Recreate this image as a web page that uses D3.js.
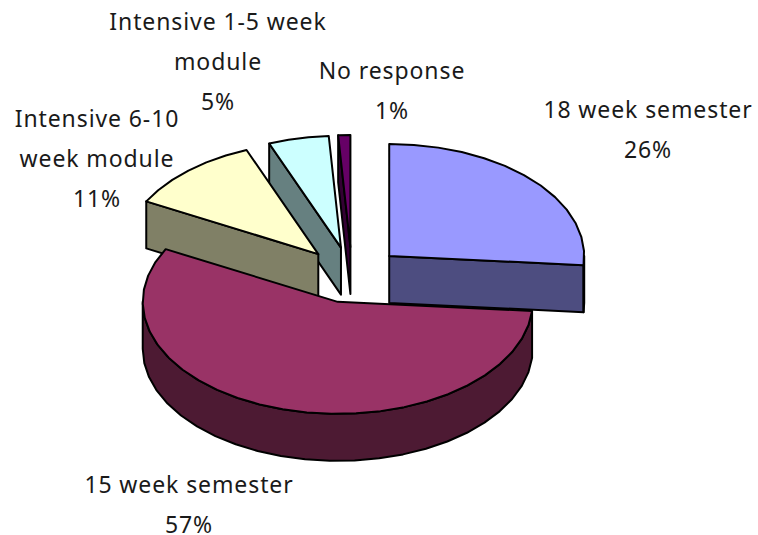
<!DOCTYPE html>
<html>
<head>
<meta charset="utf-8">
<style>
	html, body { margin: 0; padding: 0; background: #fff; }
	svg { display: block; }
	text { font-family: "Noto Sans", sans-serif; font-size: 23px; letter-spacing: 0.9px; fill: #1a1a1a; text-anchor: middle; }
</style>
<script src="https://cdn.jsdelivr.net/npm/d3@7"></script>
</head>
<body>
<svg id="chart" width="758" height="535"></svg>
<script>
	"use strict";

	var categories = ["18 week semester", "15 week semester", "Intensive 6-10 week module", "Intensive 1-5 week module", "No response"];
	// the printed labels are these rounded
	var percents = [26.3, 56.5, 11.2, 5, 1];

	// label lines, same order as categories, the percentage goes under them
	var labelLines = [
		["18 week semester"],
		["15 week semester"],
		["Intensive 6-10", "week module"],
		["Intensive 1-5 week", "module"],
		["No response"]
	];

	var topColors = ["#9999ff", "#993366", "#ffffcc", "#ccffff", "#660066"];
	var sideColors = ["#4d4d80", "#4d1a33", "#808066", "#668080", "#330033"];

	// back to front
	var drawOrder = [4, 3, 2, 1, 0];

	var center = { x: 352, y: 275 },
		radiusX = 195,
		radiusY = 112,
		depth = 47,
		explodeX = 50.6,
		explodeY = 28,
		rimStep = Math.PI / 24;

	// x of the first line's centre, baseline of the first line, for each label
	var labelAnchors = [[648, 118], [189, 493], [97, 127], [218, 30], [392, 79]];
	var labelPitch = 40;

	var svg = d3.select("#chart");

	var slices = d3.pie().sort(null).value(function(d) { return d; })(percents);

	var xScale = d3.scaleLinear().domain([-1, 1]).range([-radiusX, radiusX]),
		yScale = d3.scaleLinear().domain([-1, 1]).range([radiusY, -radiusY]);

	var line = d3.line().x(function(d) { return d[0]; }).y(function(d) { return d[1]; });

	// points along the outer rim between two angles, clockwise from 12 o'clock
	function rim(apex, a0, a1, drop) {
		var pts = [], n = Math.max(1, Math.ceil((a1 - a0) / rimStep));
		for (var i = 0; i <= n; i++) {
			var a = a0 + (a1 - a0) * i / n;
			pts.push([apex.x + xScale(Math.sin(a)), apex.y + yScale(Math.cos(a)) + drop]);
		}
		return pts;
	}

	function drawFace(pts, fill) {
		svg.append("path")
			.attr("d", line(pts) + "Z")
			.attr("fill", fill)
			.attr("stroke", "#000")
			.attr("stroke-width", 2)
			.attr("stroke-linejoin", "round");
	}

	drawOrder.forEach(function(i) {
		var s = slices[i],
			mid = (s.startAngle + s.endAngle) / 2,
			apex = { x: center.x + explodeX * Math.sin(mid), y: center.y - explodeY * Math.cos(mid) };

		// cut faces that look towards the viewer
		[s.startAngle, s.endAngle].forEach(function(a, k) {
			var visible = k === 0 ? Math.sin(a) < -1e-6 : Math.sin(a) > 1e-6;
			if (!visible) return;
			var outer = rim(apex, a, a, 0)[0];
			drawFace([[apex.x, apex.y], outer, [outer[0], outer[1] + depth], [apex.x, apex.y + depth]], sideColors[i]);
		});

		// outer wall, only the part on the front half of the ellipse
		var a0 = Math.max(s.startAngle, Math.PI / 2),
			a1 = Math.min(s.endAngle, Math.PI * 1.5);
		if (a1 > a0) {
			drawFace(rim(apex, a0, a1, 0).concat(rim(apex, a0, a1, depth).reverse()), sideColors[i]);
		}

		// top face
		drawFace([[apex.x, apex.y]].concat(rim(apex, s.startAngle, s.endAngle, 0)), topColors[i]);
	});

	categories.forEach(function(name, i) {
		var label = svg.append("text").attr("class", "label").attr("data-name", name);
		labelLines[i].concat([Math.round(percents[i]) + "%"]).forEach(function(t, j) {
			label.append("tspan")
				.attr("x", labelAnchors[i][0])
				.attr("y", labelAnchors[i][1] + j * labelPitch)
				.text(t);
		});
	});
</script>
</body>
</html>
